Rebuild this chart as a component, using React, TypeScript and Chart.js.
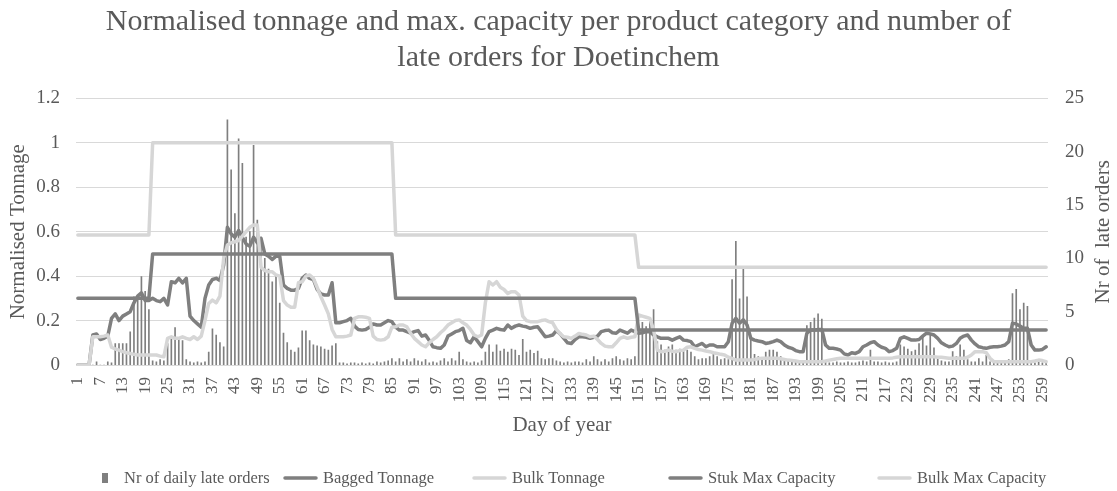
import React, { useEffect, useRef } from 'react';
import Chart from 'chart.js/auto';

// Day-of-year categories (1..260)
const days: string[] = Array.from({ length: 260 }, (_, i) => String(i + 1));

const titleLines = [
  'Normalised tonnage and max. capacity per product category and number of',
  'late orders for Doetinchem',
];
const xAxisTitle = 'Day of year';
const leftAxisTitle = 'Normalised Tonnage';
const rightAxisTitle = 'Nr of  late orders';

// Number of late orders per day (right axis)
const lateOrders = [
  0, 0, 0, 0, 0, 0.3, 0, 0, 0.3, 0.2,
  2, 2, 2, 2, 3.1, 6.4, 6.1, 8.3, 6.9, 5.2,
  0.4, 0.3, 0.5, 0.4, 2.0, 2.4, 3.5, 2.4, 2.3, 0.5,
  0.3, 0.2, 0.3, 0.2, 0.3, 1.2, 3.4, 2.8, 2.1, 1.7,
  23, 18.3, 14.2, 21.2, 18.9, 12, 12.5, 20.6, 13.6, 12,
  10, 9, 7.8, 8.4, 5.8, 3.0, 2.1, 1.4, 1.2, 1.6,
  3.2, 3.2, 2.3, 1.9, 1.8, 1.7, 1.5, 1.4, 1.8, 2.0,
  0.2, 0.2, 0.1, 0.2, 0.2, 0.1, 0.2, 0.1, 0.2, 0.1,
  0.3, 0.2, 0.3, 0.4, 0.6, 0.3, 0.6, 0.3, 0.5, 0.3,
  0.6, 0.4, 0.3, 0.5, 0.2, 0.3, 0.2, 0.4, 0.6, 0.3,
  0.6, 0.4, 1.2, 0.5, 0.3, 0.2, 0.3, 0.2, 0.4, 1.2,
  1.9, 1.2, 1.9, 1.3, 1.5, 1.2, 1.5, 1.4, 0.9, 2.4,
  1.2, 1.4, 1.1, 1.3, 0.6, 0.5, 0.6, 0.6, 0.4, 0.3,
  0.2, 0.3, 0.2, 0.3, 0.3, 0.2, 0.5, 0.3, 0.8, 0.5,
  0.3, 0.5, 0.3, 0.6, 0.8, 0.5, 0.4, 0.6, 0.5, 0.8,
  3.5, 4.0, 3.6, 4.2, 5.2, 2.2, 1.9, 1.4, 1.7, 1.9,
  1.4, 1.5, 1.25, 1.4, 1.2, 0.8, 0.5, 0.6, 0.6, 0.8,
  1.1, 0.8, 0.5, 0.6, 0.5, 8.0, 11.6, 6.2, 9.0, 6.4,
  2.6, 1.0, 0.8, 0.6, 1.2, 1.4, 1.4, 1.2, 0.8, 0.6,
  0.4, 0.3, 0.3, 0.3, 0.4, 3.7, 4.0, 4.4, 4.8, 4.3,
  0.3, 0.2, 0.2, 0.3, 0.2, 0.2, 0.3, 0.2, 0.2, 0.3,
  0.4, 0.3, 1.4, 0.3, 0.3, 0.2, 0.3, 0.2, 0.2, 0.3,
  1.9, 1.7, 1.5, 1.25, 1.4, 2.0, 2.65, 1.8, 2.8, 1.6,
  0.6, 0.4, 0.3, 0.3, 1.25, 0.8, 1.9, 1.4, 0.5, 0.3,
  0.3, 0.6, 0.3, 0.9, 0.3, 0.2, 0.3, 0.3, 0.3, 0.5,
  6.7, 7.1, 5.2, 5.8, 5.5, 0.3, 0.2, 0.3, 0.2, 0.3,
];

// Normalised bagged tonnage per day (left axis)
const baggedTonnage = [
  0, 0, 0, 0, 0.135, 0.14, 0.115, 0.12, 0.13, 0.21,
  0.23, 0.2, 0.22, 0.23, 0.24, 0.28, 0.31, 0.325, 0.29, 0.29,
  0.3, 0.29, 0.285, 0.3, 0.27, 0.375, 0.37, 0.39, 0.37, 0.39,
  0.22, 0.2, 0.185, 0.17, 0.3, 0.36, 0.385, 0.39, 0.38, 0.45,
  0.62, 0.59, 0.575, 0.605, 0.575, 0.545, 0.535, 0.575, 0.55, 0.57,
  0.5, 0.49, 0.475, 0.49, 0.49, 0.36, 0.345, 0.337, 0.337, 0.345,
  0.39, 0.405, 0.39, 0.385, 0.34, 0.32, 0.315, 0.315, 0.37, 0.19,
  0.19, 0.195, 0.2, 0.21, 0.175, 0.16, 0.157, 0.16, 0.17, 0.185,
  0.18, 0.18, 0.19, 0.2, 0.195, 0.17, 0.157, 0.157, 0.15, 0.143,
  0.15, 0.155, 0.13, 0.135, 0.11, 0.082, 0.078, 0.075, 0.09, 0.13,
  0.14, 0.15, 0.155, 0.165, 0.11, 0.1, 0.127, 0.105, 0.082, 0.12,
  0.15, 0.157, 0.165, 0.16, 0.157, 0.18, 0.165, 0.175, 0.18, 0.175,
  0.172, 0.165, 0.17, 0.172, 0.15, 0.127, 0.13, 0.135, 0.155, 0.14,
  0.12, 0.1, 0.097, 0.115, 0.127, 0.127, 0.125, 0.12, 0.125, 0.13,
  0.15, 0.155, 0.157, 0.145, 0.143, 0.157, 0.15, 0.143, 0.157, 0.15,
  0.143, 0.145, 0.15, 0.15, 0.135, 0.127, 0.12, 0.12, 0.12, 0.112,
  0.12, 0.127, 0.112, 0.11, 0.105, 0.082, 0.09, 0.097, 0.082, 0.09,
  0.09, 0.082, 0.082, 0.082, 0.105, 0.188, 0.21, 0.188, 0.203, 0.18,
  0.12, 0.112, 0.108, 0.105, 0.097, 0.1, 0.105, 0.112, 0.105, 0.09,
  0.08, 0.075, 0.065, 0.06, 0.06, 0.143, 0.157, 0.157, 0.16, 0.16,
  0.09, 0.075, 0.075, 0.072, 0.067, 0.05, 0.045, 0.055, 0.052, 0.06,
  0.082, 0.09, 0.1, 0.105, 0.09, 0.08, 0.075, 0.06, 0.065, 0.075,
  0.12, 0.127, 0.12, 0.112, 0.112, 0.115, 0.13, 0.143, 0.14, 0.135,
  0.12, 0.1, 0.09, 0.082, 0.085, 0.097, 0.12, 0.13, 0.135, 0.112,
  0.095, 0.082, 0.078, 0.075, 0.08, 0.082, 0.082, 0.085, 0.09, 0.105,
  0.188, 0.185, 0.175, 0.165, 0.165, 0.09, 0.067, 0.067, 0.07, 0.082,
];

// Normalised bulk tonnage per day (left axis)
const bulkTonnage = [
  0, 0, 0, 0, 0.127, 0.127, 0.127, 0.13, 0.135, 0.08,
  0.072, 0.067, 0.06, 0.055, 0.052, 0.048, 0.045, 0.045, 0.045, 0.045,
  0.045, 0.045, 0.04, 0.037, 0.12, 0.127, 0.12, 0.12, 0.127, 0.12,
  0.115, 0.127, 0.115, 0.13, 0.2, 0.277, 0.292, 0.28, 0.31, 0.48,
  0.54, 0.55, 0.555, 0.56, 0.58, 0.6, 0.62, 0.63, 0.63, 0.44,
  0.425, 0.42, 0.42, 0.405, 0.4, 0.29, 0.27, 0.26, 0.26, 0.37,
  0.375, 0.4, 0.405, 0.39, 0.35, 0.307, 0.27, 0.23, 0.16, 0.127,
  0.127, 0.127, 0.13, 0.135, 0.21, 0.217, 0.217, 0.215, 0.21, 0.13,
  0.115, 0.112, 0.115, 0.127, 0.17, 0.172, 0.18, 0.18, 0.172, 0.143,
  0.12, 0.105, 0.09, 0.082, 0.1, 0.115, 0.127, 0.145, 0.16, 0.18,
  0.19, 0.2, 0.203, 0.19, 0.18, 0.16, 0.135, 0.127, 0.135, 0.28,
  0.375, 0.36, 0.375, 0.35, 0.34, 0.322, 0.33, 0.33, 0.315, 0.22,
  0.2, 0.195, 0.195, 0.195, 0.2, 0.203, 0.195, 0.19, 0.16, 0.14,
  0.127, 0.125, 0.12, 0.13, 0.142, 0.138, 0.135, 0.127, 0.13, 0.115,
  0.097, 0.085, 0.082, 0.082, 0.1, 0.12, 0.127, 0.12, 0.125, 0.127,
  0.225, 0.22, 0.215, 0.21, 0.157, 0.067, 0.06, 0.062, 0.067, 0.062,
  0.06, 0.065, 0.067, 0.08, 0.082, 0.075, 0.07, 0.067, 0.063, 0.06,
  0.055, 0.052, 0.048, 0.045, 0.035, 0.03, 0.022, 0.022, 0.022, 0.022,
  0.022, 0.025, 0.028, 0.03, 0.03, 0.03, 0.03, 0.03, 0.028, 0.025,
  0.022, 0.02, 0.018, 0.015, 0.015, 0.015, 0.015, 0.015, 0.015, 0.015,
  0.018, 0.022, 0.025, 0.028, 0.03, 0.03, 0.03, 0.03, 0.03, 0.03,
  0.03, 0.03, 0.03, 0.03, 0.03, 0.03, 0.03, 0.03, 0.032, 0.035,
  0.037, 0.037, 0.037, 0.037, 0.037, 0.037, 0.037, 0.037, 0.037, 0.037,
  0.035, 0.035, 0.033, 0.03, 0.03, 0.03, 0.03, 0.03, 0.035, 0.045,
  0.06, 0.06, 0.06, 0.055, 0.03, 0.015, 0.015, 0.015, 0.015, 0.015,
  0.015, 0.015, 0.015, 0.015, 0.015, 0.015, 0.018, 0.022, 0.02, 0.015,
];

// Capacity levels: the days where each level starts/ends
const stukMaxDays = ['1', '20', '21', '85', '86', '150', '151', '260'];
const stukMaxValues = [0.3, 0.3, 0.5, 0.5, 0.3, 0.3, 0.157, 0.157];
const bulkMaxDays = ['1', '20', '21', '85', '86', '150', '151', '260'];
const bulkMaxValues = [0.585, 0.585, 1.0, 1.0, 0.585, 0.585, 0.44, 0.44];

const FONT = "'Liberation Serif', 'Times New Roman', serif";
const TEXT = '#595959';
const DARK = '#7f7f7f';
const LIGHT = '#d6d6d6';
const GRID = '#d9d9d9';

// Legend text start positions along the bottom row
const legendTextX = [124, 323, 512, 708, 917];

const legendPlugin = {
  id: 'bottomLegend',
  afterDraw(chart: any) {
    const ctx = chart.ctx as CanvasRenderingContext2D;
    const y = chart.height - 13;
    ctx.save();
    ctx.font = `16.5px ${FONT}`;
    ctx.textBaseline = 'middle';
    ctx.textAlign = 'left';
    chart.data.datasets.forEach((ds: any, i: number) => {
      const tx = legendTextX[i];
      if (ds.type === 'bar') {
        ctx.fillStyle = ds.backgroundColor;
        ctx.fillRect(tx - 22, y - 5, 6, 10);
      } else {
        ctx.strokeStyle = ds.borderColor;
        ctx.lineWidth = ds.borderWidth;
        ctx.lineCap = 'round';
        ctx.beginPath();
        ctx.moveTo(tx - 38, y);
        ctx.lineTo(tx - 7, y);
        ctx.stroke();
      }
      ctx.fillStyle = TEXT;
      ctx.fillText(ds.label, tx, y + 1);
    });
    ctx.restore();
  },
};

const rightTitlePlugin = {
  id: 'rightTitle',
  afterDraw(chart: any) {
    const ctx = chart.ctx as CanvasRenderingContext2D;
    const { chartArea } = chart;
    const sc = chart.scales.y1;
    ctx.save();
    ctx.translate(sc.right - 14, (chartArea.top + chartArea.bottom) / 2);
    ctx.rotate(-Math.PI / 2);
    ctx.font = `21px ${FONT}`;
    ctx.fillStyle = TEXT;
    ctx.textAlign = 'center';
    ctx.textBaseline = 'middle';
    ctx.fillText(rightAxisTitle, 0, 0);
    ctx.restore();
  },
};

export default function App() {
  const ref = useRef<HTMLCanvasElement>(null);

  useEffect(() => {
    document.body.style.margin = '0';
    const canvas = ref.current!;
    const lineCommon = {
      type: 'line' as const,
      yAxisID: 'y',
      pointRadius: 0,
      pointHoverRadius: 0,
      tension: 0,
      borderWidth: 3.5,
      borderJoinStyle: 'round' as const,
      borderCapStyle: 'round' as const,
      fill: false,
    };
    const chart = new Chart(canvas, {
      type: 'bar',
      data: {
        labels: days,
        datasets: [
          {
            type: 'bar',
            label: 'Nr of daily late orders',
            data: lateOrders,
            yAxisID: 'y1',
            backgroundColor: DARK,
            barThickness: 1,
            order: 5,
          },
          { ...lineCommon, label: 'Bagged Tonnage', data: baggedTonnage, borderColor: DARK, order: 4 },
          { ...lineCommon, label: 'Bulk Tonnage', data: bulkTonnage, borderColor: LIGHT, order: 3 },
          {
            ...lineCommon,
            label: 'Stuk Max Capacity',
            data: stukMaxDays.map((d, i) => ({ x: d, y: stukMaxValues[i] })),
            borderColor: DARK,
            order: 2,
          },
          {
            ...lineCommon,
            label: 'Bulk Max Capacity',
            data: bulkMaxDays.map((d, i) => ({ x: d, y: bulkMaxValues[i] })),
            borderColor: LIGHT,
            order: 1,
          },
        ] as any,
      },
      options: {
        responsive: false,
        animation: false,
        devicePixelRatio: 1,
        layout: { padding: { left: 0, right: 0, top: 0, bottom: 51 } },
        plugins: {
          legend: { display: false },
          tooltip: { enabled: false },
          title: {
            display: true,
            text: titleLines,
            color: TEXT,
            font: { family: FONT, size: 30, weight: 'normal', lineHeight: 1.2 },
            padding: { top: 4, bottom: 22.4 },
          },
        },
        scales: {
          x: {
            type: 'category',
            offset: true,
            grid: { display: false, drawTicks: false },
            border: { display: false },
            ticks: {
              autoSkip: false,
              maxRotation: 90,
              minRotation: 90,
              padding: 12,
              color: TEXT,
              font: { family: FONT, size: 17 },
              callback: (_v: any, i: number) => (i % 6 === 0 ? days[i] : ''),
            },
            title: {
              display: true,
              text: xAxisTitle,
              color: TEXT,
              font: { family: FONT, size: 21 },
              padding: { top: 0, bottom: 2.4 },
            },
            afterFit: (s: any) => {
              s.height = 75;
            },
          },
          y: {
            position: 'left',
            min: 0,
            max: 1.2,
            grid: { color: GRID, lineWidth: 1, drawTicks: false },
            border: { display: false },
            ticks: {
              stepSize: 0.2,
              padding: 16,
              color: TEXT,
              font: { family: FONT, size: 19 },
              callback: (v: any) => String(Math.round(Number(v) * 10) / 10),
            },
            title: {
              display: true,
              text: leftAxisTitle,
              color: TEXT,
              font: { family: FONT, size: 21 },
              padding: { top: 5.4, bottom: 0 },
            },
            afterFit: (s: any) => {
              s.width = 76;
            },
          },
          y1: {
            position: 'right',
            min: 0,
            max: 25,
            grid: { display: false, drawTicks: false },
            border: { display: false },
            ticks: {
              stepSize: 5,
              padding: 17,
              color: TEXT,
              font: { family: FONT, size: 19 },
            },
            afterFit: (s: any) => {
              s.width = 69;
            },
          },
        },
      } as any,
      plugins: [legendPlugin, rightTitlePlugin],
    });
    return () => chart.destroy();
  }, []);

  return <canvas ref={ref} width={1117} height={491} style={{ display: 'block' }} />;
}
